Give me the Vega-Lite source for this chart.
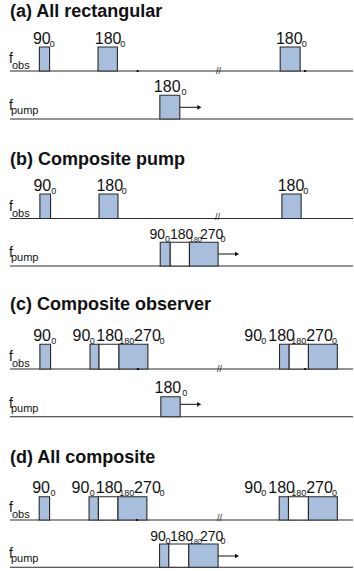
{
  "$schema": "https://vega.github.io/schema/vega-lite/v6.json",
  "width": 354,
  "height": 571,
  "padding": 0,
  "autosize": {"type": "fit", "contains": "padding"},
  "background": "white",
  "config": {"view": {"stroke": null}},
  "datasets": {
    "lines": [
      {"panel": "a", "ch": "obs", "t0": 10, "t1": 354, "d": 71},
      {"panel": "a", "ch": "pump", "t0": 10, "t1": 354, "d": 119},
      {"panel": "b", "ch": "obs", "t0": 10, "t1": 354, "d": 218.5},
      {"panel": "b", "ch": "pump", "t0": 10, "t1": 354, "d": 266},
      {"panel": "c", "ch": "obs", "t0": 10, "t1": 354, "d": 369},
      {"panel": "c", "ch": "pump", "t0": 10, "t1": 354, "d": 416.7},
      {"panel": "d", "ch": "obs", "t0": 10, "t1": 354, "d": 520},
      {"panel": "d", "ch": "pump", "t0": 10, "t1": 354, "d": 567.3}
    ],
    "pulses": [
      {"panel": "a", "t0": 39.5, "t1": 49.7, "top": 47, "base": 71, "part": "pulse"},
      {"panel": "a", "t0": 98.3, "t1": 117.7, "top": 47, "base": 71, "part": "pulse"},
      {"panel": "a", "t0": 281, "t1": 301, "top": 47, "base": 71, "part": "pulse"},
      {"panel": "a", "t0": 160.3, "t1": 180.3, "top": 95.3, "base": 119, "part": "pulse"},
      {"panel": "b", "t0": 40, "t1": 50.7, "top": 194, "base": 218.5, "part": "pulse"},
      {"panel": "b", "t0": 99.3, "t1": 118.3, "top": 194, "base": 218.5, "part": "pulse"},
      {"panel": "b", "t0": 282.7, "t1": 302, "top": 194, "base": 218.5, "part": "pulse"},
      {"panel": "b", "t0": 160.7, "t1": 170.7, "top": 242.3, "base": 266, "part": "pulse"},
      {"panel": "b", "t0": 170.7, "t1": 190, "top": 242.3, "base": 266, "part": "gap"},
      {"panel": "b", "t0": 190, "t1": 218.7, "top": 242.3, "base": 266, "part": "pulse"},
      {"panel": "c", "t0": 40, "t1": 50.7, "top": 344.3, "base": 369, "part": "pulse"},
      {"panel": "c", "t0": 90.3, "t1": 99.3, "top": 344.3, "base": 369, "part": "pulse"},
      {"panel": "c", "t0": 99.3, "t1": 119.3, "top": 344.3, "base": 369, "part": "gap"},
      {"panel": "c", "t0": 119.3, "t1": 148.3, "top": 344.3, "base": 369, "part": "pulse"},
      {"panel": "c", "t0": 280.3, "t1": 290, "top": 344.3, "base": 369, "part": "pulse"},
      {"panel": "c", "t0": 290, "t1": 309.3, "top": 344.3, "base": 369, "part": "gap"},
      {"panel": "c", "t0": 309.3, "t1": 338.3, "top": 344.3, "base": 369, "part": "pulse"},
      {"panel": "c", "t0": 161.3, "t1": 180.7, "top": 396.7, "base": 416.7, "part": "pulse"},
      {"panel": "d", "t0": 39.3, "t1": 49.7, "top": 496.7, "base": 520, "part": "pulse"},
      {"panel": "d", "t0": 89.3, "t1": 98.7, "top": 496.7, "base": 520, "part": "pulse"},
      {"panel": "d", "t0": 98.7, "t1": 118.3, "top": 496.7, "base": 520, "part": "gap"},
      {"panel": "d", "t0": 118.3, "t1": 147.3, "top": 496.7, "base": 520, "part": "pulse"},
      {"panel": "d", "t0": 280, "t1": 289.3, "top": 496.7, "base": 520, "part": "pulse"},
      {"panel": "d", "t0": 289.3, "t1": 309.3, "top": 496.7, "base": 520, "part": "gap"},
      {"panel": "d", "t0": 309.3, "t1": 338.3, "top": 496.7, "base": 520, "part": "pulse"},
      {"panel": "d", "t0": 160, "t1": 169.3, "top": 544, "base": 567.3, "part": "pulse"},
      {"panel": "d", "t0": 169.3, "t1": 189.3, "top": 544, "base": 567.3, "part": "gap"},
      {"panel": "d", "t0": 189.3, "t1": 218.7, "top": 544, "base": 567.3, "part": "pulse"}
    ],
    "arrows": [
      {"panel": "a", "t0": 180.3, "t1": 200, "d": 107.3},
      {"panel": "b", "t0": 218.7, "t1": 237.7, "d": 254},
      {"panel": "c", "t0": 180.7, "t1": 199.7, "d": 404.3},
      {"panel": "d", "t0": 218.7, "t1": 237.7, "d": 556}
    ],
    "breaks": [
      {"panel": "a", "t": 219, "d": 71},
      {"panel": "b", "t": 218, "d": 217},
      {"panel": "c", "t": 220, "d": 369},
      {"panel": "d", "t": 220, "d": 518}
    ],
    "dots": [
      {"panel": "a", "t": 138, "d": 71},
      {"panel": "a", "t": 306, "d": 71},
      {"panel": "c", "t": 138.3, "d": 369},
      {"panel": "c", "t": 306, "d": 369},
      {"panel": "d", "t": 137.3, "d": 520}
    ],
    "labels": [
      {"kind": "title", "text": "(a) All rectangular", "t": 10, "d": 17},
      {"kind": "title", "text": "(b) Composite pump", "t": 10, "d": 165},
      {"kind": "title", "text": "(c) Composite observer", "t": 10, "d": 310},
      {"kind": "title", "text": "(d) All composite", "t": 10, "d": 463},

      {"kind": "f", "text": "f", "t": 9, "d": 63},
      {"kind": "fsub", "text": "obs", "t": 12, "d": 69},
      {"kind": "f", "text": "f", "t": 9, "d": 110},
      {"kind": "fsub", "text": "pump", "t": 11, "d": 114},
      {"kind": "f", "text": "f", "t": 9, "d": 210.5},
      {"kind": "fsub", "text": "obs", "t": 12, "d": 216.5},
      {"kind": "f", "text": "f", "t": 9, "d": 257},
      {"kind": "fsub", "text": "pump", "t": 11, "d": 261},
      {"kind": "f", "text": "f", "t": 9, "d": 361},
      {"kind": "fsub", "text": "obs", "t": 12, "d": 367},
      {"kind": "f", "text": "f", "t": 9, "d": 407.7},
      {"kind": "fsub", "text": "pump", "t": 11, "d": 411.7},
      {"kind": "f", "text": "f", "t": 9, "d": 512},
      {"kind": "fsub", "text": "obs", "t": 12, "d": 518},
      {"kind": "f", "text": "f", "t": 9, "d": 558.3},
      {"kind": "fsub", "text": "pump", "t": 11, "d": 562.3},

      {"kind": "main", "text": "90", "t": 33, "d": 43.5},
      {"kind": "sub", "text": "0", "t": 50, "d": 46.5},
      {"kind": "main", "text": "180", "t": 95, "d": 43.5},
      {"kind": "sub", "text": "0", "t": 120.5, "d": 46.5},
      {"kind": "main", "text": "180", "t": 276.7, "d": 43.5},
      {"kind": "sub", "text": "0", "t": 302.5, "d": 46.5},
      {"kind": "main", "text": "180", "t": 154.3, "d": 91.8},
      {"kind": "sub", "text": "0", "t": 182, "d": 94.8},

      {"kind": "main", "text": "90", "t": 33.5, "d": 190.5},
      {"kind": "sub", "text": "0", "t": 51.5, "d": 193.5},
      {"kind": "main", "text": "180", "t": 96.7, "d": 190.5},
      {"kind": "sub", "text": "0", "t": 122, "d": 193.5},
      {"kind": "main", "text": "180", "t": 278.5, "d": 190.5},
      {"kind": "sub", "text": "0", "t": 304, "d": 193.5},
      {"kind": "mainS", "text": "90", "t": 150, "d": 238.8},
      {"kind": "sub", "text": "0", "t": 165.5, "d": 241.8},
      {"kind": "mainS", "text": "180", "t": 170.5, "d": 238.8},
      {"kind": "subS", "text": "180", "t": 190, "d": 241.8},
      {"kind": "mainS", "text": "270", "t": 200.5, "d": 238.8},
      {"kind": "sub", "text": "0", "t": 221, "d": 241.8},

      {"kind": "main", "text": "90", "t": 33.3, "d": 340.8},
      {"kind": "sub", "text": "0", "t": 51.5, "d": 343.8},
      {"kind": "main", "text": "90", "t": 72.7, "d": 340.8},
      {"kind": "sub", "text": "0", "t": 90, "d": 343.8},
      {"kind": "main", "text": "180", "t": 96.5, "d": 340.8},
      {"kind": "sub", "text": "180", "t": 119.5, "d": 343.8},
      {"kind": "main", "text": "270", "t": 134.5, "d": 340.8},
      {"kind": "sub", "text": "0", "t": 160, "d": 343.8},
      {"kind": "main", "text": "90", "t": 245, "d": 340.8},
      {"kind": "sub", "text": "0", "t": 262, "d": 343.8},
      {"kind": "main", "text": "180", "t": 269, "d": 340.8},
      {"kind": "sub", "text": "180", "t": 292, "d": 343.8},
      {"kind": "main", "text": "270", "t": 307, "d": 340.8},
      {"kind": "sub", "text": "0", "t": 333, "d": 343.8},
      {"kind": "main", "text": "180", "t": 155, "d": 393.2},
      {"kind": "sub", "text": "0", "t": 182.7, "d": 396.2},

      {"kind": "main", "text": "90", "t": 32.3, "d": 493.2},
      {"kind": "sub", "text": "0", "t": 50.7, "d": 496.2},
      {"kind": "main", "text": "90", "t": 71.7, "d": 493.2},
      {"kind": "sub", "text": "0", "t": 90, "d": 496.2},
      {"kind": "main", "text": "180", "t": 96, "d": 493.2},
      {"kind": "sub", "text": "180", "t": 119.5, "d": 496.2},
      {"kind": "main", "text": "270", "t": 134.5, "d": 493.2},
      {"kind": "sub", "text": "0", "t": 160, "d": 496.2},
      {"kind": "main", "text": "90", "t": 245, "d": 493.2},
      {"kind": "sub", "text": "0", "t": 262, "d": 496.2},
      {"kind": "main", "text": "180", "t": 269, "d": 493.2},
      {"kind": "sub", "text": "180", "t": 292, "d": 496.2},
      {"kind": "main", "text": "270", "t": 307, "d": 493.2},
      {"kind": "sub", "text": "0", "t": 333, "d": 496.2},
      {"kind": "mainS", "text": "90", "t": 150.7, "d": 540.5},
      {"kind": "sub", "text": "0", "t": 166, "d": 543.5},
      {"kind": "mainS", "text": "180", "t": 170.5, "d": 540.5},
      {"kind": "subS", "text": "180", "t": 190, "d": 543.5},
      {"kind": "mainS", "text": "270", "t": 200.5, "d": 540.5},
      {"kind": "sub", "text": "0", "t": 221, "d": 543.5}
    ]
  },
  "layer": [
    {
      "data": {"name": "lines"},
      "mark": {"type": "rule", "color": "#2a2a2a", "strokeWidth": 1.1},
      "encoding": {
        "x": {"field": "t0", "type": "quantitative", "scale": {"domain": [0, 354], "nice": false, "zero": false}, "axis": null},
        "x2": {"field": "t1"},
        "y": {"field": "d", "type": "quantitative", "scale": {"domain": [0, 571], "nice": false, "zero": false, "reverse": true}, "axis": null}
      }
    },
    {
      "data": {"name": "pulses"},
      "mark": {"type": "rect", "stroke": "#2a2a2a", "strokeWidth": 1.1},
      "encoding": {
        "x": {"field": "t0", "type": "quantitative"},
        "x2": {"field": "t1"},
        "y": {"field": "top", "type": "quantitative"},
        "y2": {"field": "base"},
        "fill": {"field": "part", "type": "nominal", "scale": {"domain": ["pulse", "gap"], "range": ["#a7bedc", "#ffffff"]}, "legend": null}
      }
    },
    {
      "data": {"name": "arrows"},
      "mark": {"type": "rule", "color": "#111", "strokeWidth": 1},
      "encoding": {
        "x": {"field": "t0", "type": "quantitative"},
        "x2": {"field": "t1"},
        "y": {"field": "d", "type": "quantitative"}
      }
    },
    {
      "data": {"name": "arrows"},
      "mark": {"type": "point", "shape": "triangle-right", "filled": true, "color": "#111", "size": 22, "opacity": 1},
      "encoding": {
        "x": {"field": "t1", "type": "quantitative"},
        "y": {"field": "d", "type": "quantitative"}
      }
    },
    {
      "data": {"name": "dots"},
      "mark": {"type": "point", "shape": "square", "filled": true, "color": "#111", "size": 4, "opacity": 1},
      "encoding": {
        "x": {"field": "t", "type": "quantitative"},
        "y": {"field": "d", "type": "quantitative"}
      }
    },
    {
      "data": {"name": "breaks"},
      "mark": {"type": "text", "text": "//", "font": "Liberation Sans", "fontSize": 9, "align": "center", "baseline": "middle", "color": "#222"},
      "encoding": {
        "x": {"field": "t", "type": "quantitative"},
        "y": {"field": "d", "type": "quantitative"}
      }
    },
    {
      "data": {"name": "labels"},
      "transform": [{"filter": "datum.kind === 'title'"}],
      "mark": {"type": "text", "font": "Liberation Sans", "fontWeight": "bold", "fontSize": 18, "align": "left", "baseline": "alphabetic", "color": "#111"},
      "encoding": {
        "x": {"field": "t", "type": "quantitative"},
        "y": {"field": "d", "type": "quantitative"},
        "text": {"field": "text"}
      }
    },
    {
      "data": {"name": "labels"},
      "transform": [{"filter": "datum.kind === 'f'"}],
      "mark": {"type": "text", "font": "Liberation Sans", "fontSize": 14, "align": "left", "baseline": "alphabetic", "color": "#111"},
      "encoding": {
        "x": {"field": "t", "type": "quantitative"},
        "y": {"field": "d", "type": "quantitative"},
        "text": {"field": "text"}
      }
    },
    {
      "data": {"name": "labels"},
      "transform": [{"filter": "datum.kind === 'fsub'"}],
      "mark": {"type": "text", "font": "Liberation Sans", "fontSize": 11, "align": "left", "baseline": "alphabetic", "color": "#111"},
      "encoding": {
        "x": {"field": "t", "type": "quantitative"},
        "y": {"field": "d", "type": "quantitative"},
        "text": {"field": "text"}
      }
    },
    {
      "data": {"name": "labels"},
      "transform": [{"filter": "datum.kind === 'main'"}],
      "mark": {"type": "text", "font": "Liberation Sans Narrow, Arial Narrow, Liberation Sans", "fontSize": 16, "align": "left", "baseline": "alphabetic", "color": "#111"},
      "encoding": {
        "x": {"field": "t", "type": "quantitative"},
        "y": {"field": "d", "type": "quantitative"},
        "text": {"field": "text"}
      }
    },
    {
      "data": {"name": "labels"},
      "transform": [{"filter": "datum.kind === 'mainS'"}],
      "mark": {"type": "text", "font": "Liberation Sans Narrow, Arial Narrow, Liberation Sans", "fontSize": 14, "align": "left", "baseline": "alphabetic", "color": "#111"},
      "encoding": {
        "x": {"field": "t", "type": "quantitative"},
        "y": {"field": "d", "type": "quantitative"},
        "text": {"field": "text"}
      }
    },
    {
      "data": {"name": "labels"},
      "transform": [{"filter": "datum.kind === 'sub'"}],
      "mark": {"type": "text", "font": "Liberation Sans Narrow, Arial Narrow, Liberation Sans", "fontSize": 9, "align": "left", "baseline": "alphabetic", "color": "#111"},
      "encoding": {
        "x": {"field": "t", "type": "quantitative"},
        "y": {"field": "d", "type": "quantitative"},
        "text": {"field": "text"}
      }
    },
    {
      "data": {"name": "labels"},
      "transform": [{"filter": "datum.kind === 'subS'"}],
      "mark": {"type": "text", "font": "Liberation Sans Narrow, Arial Narrow, Liberation Sans", "fontSize": 7.5, "align": "left", "baseline": "alphabetic", "color": "#111"},
      "encoding": {
        "x": {"field": "t", "type": "quantitative"},
        "y": {"field": "d", "type": "quantitative"},
        "text": {"field": "text"}
      }
    }
  ]
}
